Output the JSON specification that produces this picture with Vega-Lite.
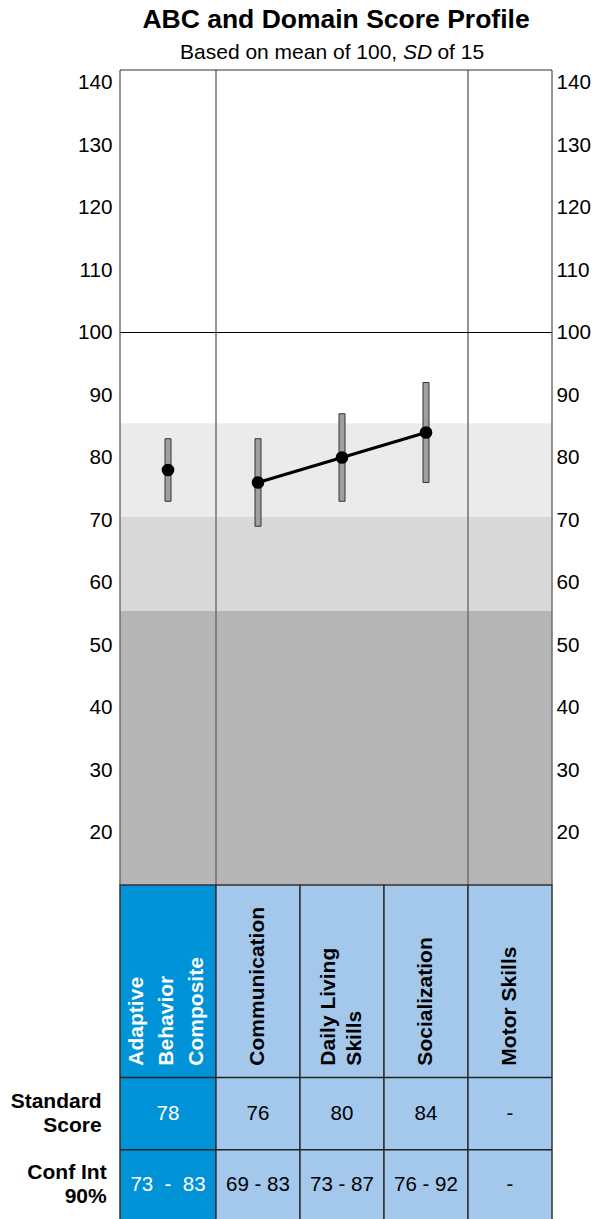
{
  "$schema": "https://vega.github.io/schema/vega-lite/v6.json",
  "width": 432,
  "height": 1150,
  "autosize": {"type": "pad"},
  "padding": {"left": 10, "top": 7, "right": 0, "bottom": 0},
  "config": {
    "font": "Liberation Sans",
    "view": {"stroke": null},
    "axis": {"labelFont": "Liberation Sans", "labelFontSize": 20.7, "labelColor": "#000000", "ticks": false, "domain": false, "grid": false}
  },
  "title": {
    "text": "ABC and Domain Score Profile",
    "font": "Liberation Sans",
    "fontSize": 26.5,
    "fontWeight": "bold",
    "color": "#000000",
    "frame": "group",
    "anchor": "middle",
    "offset": 8
  },
  "datasets": {
    "bands": [
      {"band": "71-85", "lo": 70.5, "hi": 85.5},
      {"band": "56-70", "lo": 55.5, "hi": 70.5},
      {"band": "55 and below", "lo": 11.6, "hi": 55.5}
    ],
    "frame": [{"x": 0}, {"x": 8}, {"x": 29}, {"x": 36}],
    "rowlines": [{"y": -19.2}, {"y": -30.75}],
    "domains": [
      {"key": "ABC", "x0": 0, "x1": 8, "xc": 4, "header": ["Adaptive", "Behavior", "Composite"], "score": 78, "lo": 73, "hi": 83, "scoreLabel": "78", "ciLabel": "73\u00a0\u00a0-\u00a0\u00a083"},
      {"key": "COM", "x0": 8, "x1": 15, "xc": 11.5, "header": "Communication", "score": 76, "lo": 69, "hi": 83, "scoreLabel": "76", "ciLabel": "69 - 83"},
      {"key": "DLS", "x0": 15, "x1": 22, "xc": 18.5, "header": ["Daily Living", "Skills"], "score": 80, "lo": 73, "hi": 87, "scoreLabel": "80", "ciLabel": "73 - 87"},
      {"key": "SOC", "x0": 22, "x1": 29, "xc": 25.5, "header": "Socialization", "score": 84, "lo": 76, "hi": 92, "scoreLabel": "84", "ciLabel": "76 - 92"},
      {"key": "MOT", "x0": 29, "x1": 36, "xc": 32.5, "header": "Motor Skills", "score": null, "lo": null, "hi": null, "scoreLabel": "-", "ciLabel": "-"}
    ]
  },
  "resolve": {"axis": {"y": "independent"}},
  "layer": [
    {
      "data": {"name": "bands"},
      "mark": {"type": "rect"},
      "encoding": {
        "x": {"datum": 0, "type": "quantitative", "scale": {"domain": [0, 36], "nice": false, "zero": false, "padding": 0}, "axis": null},
        "x2": {"datum": 36},
        "y": {"field": "lo", "type": "quantitative", "scale": {"domain": [-42, 142], "nice": false, "zero": false, "padding": 0},
              "axis": {"orient": "left", "values": [20, 30, 40, 50, 60, 70, 80, 90, 100, 110, 120, 130, 140], "labelPadding": 8, "title": null}},
        "y2": {"field": "hi"},
        "fill": {"field": "band", "type": "nominal", "scale": {"domain": ["71-85", "56-70", "55 and below"], "range": ["#ebebeb", "#d9d9d9", "#b5b5b5"]}, "legend": null}
      }
    },
    {
      "data": {"name": "frame"},
      "mark": {"type": "rule", "color": "#707070", "strokeWidth": 1.5},
      "encoding": {
        "x": {"field": "x", "type": "quantitative", "axis": null},
        "y": {"datum": 11.6, "type": "quantitative", "axis": null},
        "y2": {"datum": 142}
      }
    },
    {
      "data": {"values": [{}]},
      "mark": {"type": "rule", "color": "#333333", "strokeWidth": 1.2},
      "encoding": {
        "x": {"datum": 0, "type": "quantitative", "axis": null},
        "x2": {"datum": 36},
        "y": {"datum": 142, "type": "quantitative", "axis": null}
      }
    },
    {
      "data": {"values": [{"ref": 100}]},
      "mark": {"type": "rule", "color": "#000000", "strokeWidth": 1.2},
      "encoding": {
        "x": {"datum": 0, "type": "quantitative", "axis": null},
        "x2": {"datum": 36},
        "y": {"field": "ref", "type": "quantitative",
              "axis": {"orient": "right", "values": [20, 30, 40, 50, 60, 70, 80, 90, 100, 110, 120, 130, 140], "labelPadding": 4, "title": null}}
      }
    },
    {
      "data": {"values": [{"part": "Based on mean of 100,"}]},
      "mark": {"type": "text", "align": "right", "baseline": "alphabetic", "fontSize": 21, "fill": "#000000"},
      "encoding": {
        "x": {"datum": 23.1, "type": "quantitative", "axis": null},
        "y": {"datum": 143.8, "type": "quantitative", "axis": null},
        "text": {"field": "part"}
      }
    },
    {
      "data": {"values": [{"part": "SD"}]},
      "mark": {"type": "text", "align": "left", "baseline": "alphabetic", "fontSize": 21, "fontStyle": "italic", "fill": "#000000"},
      "encoding": {
        "x": {"datum": 23.58, "type": "quantitative", "axis": null},
        "y": {"datum": 143.8, "type": "quantitative", "axis": null},
        "text": {"field": "part"}
      }
    },
    {
      "data": {"values": [{"part": "of 15"}]},
      "mark": {"type": "text", "align": "left", "baseline": "alphabetic", "fontSize": 21, "fill": "#000000"},
      "encoding": {
        "x": {"datum": 26.45, "type": "quantitative", "axis": null},
        "y": {"datum": 143.8, "type": "quantitative", "axis": null},
        "text": {"field": "part"}
      }
    },
    {
      "data": {"name": "domains"},
      "mark": {"type": "rect", "stroke": "#333333", "strokeWidth": 1.5},
      "encoding": {
        "x": {"field": "x0", "type": "quantitative", "axis": null},
        "x2": {"field": "x1"},
        "y": {"datum": 11.6, "type": "quantitative", "axis": null},
        "y2": {"datum": -42},
        "fill": {"condition": {"test": "datum.key === 'ABC'", "value": "#0093d7"}, "value": "#a3c8ec"}
      }
    },
    {
      "data": {"name": "rowlines"},
      "mark": {"type": "rule", "color": "#222222", "strokeWidth": 1.5},
      "encoding": {
        "x": {"datum": 0, "type": "quantitative", "axis": null},
        "x2": {"datum": 36},
        "y": {"field": "y", "type": "quantitative", "axis": null}
      }
    },
    {
      "data": {"name": "domains"},
      "transform": [{"filter": "datum.score != null"}],
      "mark": {"type": "bar", "width": 6, "fill": "#a0a0a0", "stroke": "#333333", "strokeWidth": 1},
      "encoding": {
        "x": {"field": "xc", "type": "quantitative", "axis": null},
        "y": {"field": "lo", "type": "quantitative", "axis": null},
        "y2": {"field": "hi"}
      }
    },
    {
      "data": {"name": "domains"},
      "transform": [{"filter": "datum.score != null && datum.key !== 'ABC'"}],
      "mark": {"type": "line", "color": "#000000", "strokeWidth": 3},
      "encoding": {
        "x": {"field": "xc", "type": "quantitative", "axis": null},
        "y": {"field": "score", "type": "quantitative", "axis": null},
        "order": {"field": "xc"}
      }
    },
    {
      "data": {"name": "domains"},
      "transform": [{"filter": "datum.score != null"}],
      "mark": {"type": "circle", "size": 160, "color": "#000000", "opacity": 1},
      "encoding": {
        "x": {"field": "xc", "type": "quantitative", "axis": null},
        "y": {"field": "score", "type": "quantitative", "axis": null}
      }
    },
    {
      "data": {"name": "domains"},
      "transform": [{"filter": "datum.key === 'ABC'"}],
      "mark": {"type": "text", "angle": 270, "align": "left", "baseline": "middle", "lineHeight": 30, "dy": -31, "fontSize": 21, "fontWeight": "bold", "fill": "#ffffff"},
      "encoding": {
        "x": {"field": "xc", "type": "quantitative", "axis": null},
        "y": {"datum": -17.3, "type": "quantitative", "axis": null},
        "text": {"field": "header"}
      }
    },
    {
      "data": {"name": "domains"},
      "transform": [{"filter": "datum.key === 'DLS'"}],
      "mark": {"type": "text", "angle": 270, "align": "left", "baseline": "middle", "lineHeight": 26, "dy": -13, "fontSize": 21, "fontWeight": "bold", "fill": "#000000"},
      "encoding": {
        "x": {"field": "xc", "type": "quantitative", "axis": null},
        "y": {"datum": -17.3, "type": "quantitative", "axis": null},
        "text": {"field": "header"}
      }
    },
    {
      "data": {"name": "domains"},
      "transform": [{"filter": "datum.key !== 'ABC' && datum.key !== 'DLS'"}],
      "mark": {"type": "text", "angle": 270, "align": "left", "baseline": "middle", "fontSize": 21, "fontWeight": "bold", "fill": "#000000"},
      "encoding": {
        "x": {"field": "xc", "type": "quantitative", "axis": null},
        "y": {"datum": -17.3, "type": "quantitative", "axis": null},
        "text": {"field": "header"}
      }
    },
    {
      "data": {"name": "domains"},
      "mark": {"type": "text", "align": "center", "baseline": "middle", "fontSize": 20.5},
      "encoding": {
        "x": {"field": "xc", "type": "quantitative", "axis": null},
        "y": {"datum": -25, "type": "quantitative", "axis": null},
        "text": {"field": "scoreLabel"},
        "fill": {"condition": {"test": "datum.key === 'ABC'", "value": "#ffffff"}, "value": "#000000"}
      }
    },
    {
      "data": {"name": "domains"},
      "mark": {"type": "text", "align": "center", "baseline": "middle", "fontSize": 20.5},
      "encoding": {
        "x": {"field": "xc", "type": "quantitative", "axis": null},
        "y": {"datum": -36.35, "type": "quantitative", "axis": null},
        "text": {"field": "ciLabel"},
        "fill": {"condition": {"test": "datum.key === 'ABC'", "value": "#ffffff"}, "value": "#000000"}
      }
    },
    {
      "data": {"values": [{"label": ["Standard", "Score"]}]},
      "mark": {"type": "text", "align": "right", "baseline": "middle", "lineHeight": 24, "dy": -12, "fontSize": 21, "fontWeight": "bold", "fill": "#000000"},
      "encoding": {
        "x": {"datum": -1.525, "type": "quantitative", "axis": null},
        "y": {"datum": -25, "type": "quantitative", "axis": null},
        "text": {"field": "label"}
      }
    },
    {
      "data": {"values": [{"label": ["Conf Int\u00a0", "90%"]}]},
      "mark": {"type": "text", "align": "right", "baseline": "middle", "lineHeight": 24, "dy": -12, "fontSize": 21, "fontWeight": "bold", "fill": "#000000"},
      "encoding": {
        "x": {"datum": -1.11, "type": "quantitative", "axis": null},
        "y": {"datum": -36.35, "type": "quantitative", "axis": null},
        "text": {"field": "label"}
      }
    }
  ]
}
